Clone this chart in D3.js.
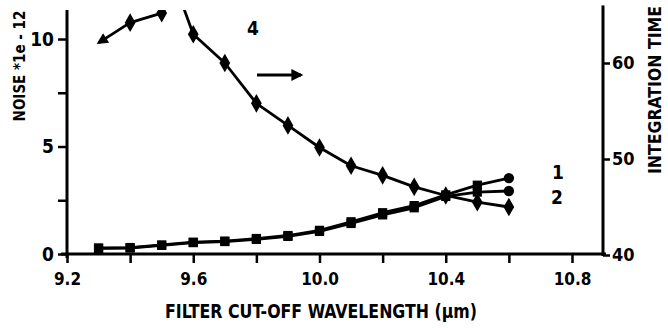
<!DOCTYPE html>
<html lang="en">
<head>
    <meta charset="UTF-8">
    <title>Noise and integration time vs filter cut-off</title>
    <script src="https://d3js.org/d3.v7.min.js"></script>
</head>
<body>
    <div id="chart"></div>

    <script>
        // Data
        const wavelengths = [9.3, 9.4, 9.5, 9.6, 9.7, 9.8, 9.9, 10.0, 10.1, 10.2, 10.3, 10.4, 10.5, 10.6];
        const noise1 = [0.28, 0.3, 0.42, 0.55, 0.6, 0.72, 0.86, 1.1, 1.5, 1.92, 2.25, 2.75, 3.2, 3.53];
        const noise2 = [0.26, 0.28, 0.4, 0.53, 0.58, 0.68, 0.82, 1.05, 1.42, 1.82, 2.15, 2.68, 2.88, 2.93];
        // integration time curve runs off the top between 9.5 and 9.6
        const timeWavelengths = [9.3, 9.4, 9.5, 9.55, 9.6, 9.7, 9.8, 9.9, 10.0, 10.1, 10.2, 10.3, 10.4, 10.5, 10.6];
        const integrationTime = [62.1, 64.2, 65.2, 67.5, 63.0, 60.0, 55.8, 53.5, 51.2, 49.3, 48.3, 47.1, 46.2, 45.5, 45.0];

        const xTicks = [9.2, 9.4, 9.6, 9.8, 10.0, 10.2, 10.4, 10.6, 10.8];
        const xLabels = ['9.2', '9.6', '10.0', '10.4', '10.8'];
        const yLeftTicks = [0, 2.5, 5, 7.5, 10];
        const yLeftLabels = ['0', '5', '10'];
        const yRightTicks = [40, 50, 60];

        const width = 668;
        const height = 328;
        const font = '"DejaVu Sans Condensed", "Liberation Sans Narrow", sans-serif';

        const svg = d3.select('#chart')
            .append('svg')
            .attr('width', width)
            .attr('height', height)
            .style('background', '#fff');

        // Scales
        const x = d3.scaleLinear().domain([9.2, 10.8]).range([67, 572]);
        const yLeft = d3.scaleLinear().domain([0, 11.35]).range([254, 10]);
        const yRight = d3.scaleLinear().domain([40, 66]).range([255, 5.4]);
        const rightX = 603;

        // Clip so the time curve is cut at the top
        svg.append('clipPath').attr('id', 'plot')
            .append('rect')
            .attr('x', x.range()[0]).attr('y', yLeft.range()[1])
            .attr('width', rightX - x.range()[0])
            .attr('height', yLeft.range()[0] - yLeft.range()[1] + 4);

        // Arrowhead marker
        const defs = svg.append('defs');
        defs.append('marker')
            .attr('id', 'arrow')
            .attr('viewBox', '0 0 10 10')
            .attr('refX', 8).attr('refY', 5)
            .attr('markerWidth', 5).attr('markerHeight', 4)
            .attr('markerUnits', 'strokeWidth')
            .attr('orient', 'auto-start-reverse')
            .append('path')
            .attr('d', 'M0,0 L10,5 L0,10 Z')
            .attr('fill', '#000');

        // X axis
        const xAxis = d3.axisBottom(x)
            .tickValues(xTicks)
            .tickSize(9)
            .tickPadding(10)
            .tickFormat(d => {
                const s = d.toFixed(1);
                return xLabels.includes(s) ? s : '';
            });

        const gx = svg.append('g')
            .attr('transform', `translate(0,${yLeft(0)})`)
            .call(xAxis);
        gx.select('.domain').remove();
        gx.selectAll('line').attr('stroke', '#000').attr('stroke-width', 2.5);
        gx.selectAll('text')
            .attr('font-family', font).attr('font-weight', 'bold')
            .attr('font-size', 17).attr('fill', '#000');

        svg.append('line')
            .attr('x1', x.range()[0] - 6).attr('x2', rightX + 3)
            .attr('y1', yLeft(0)).attr('y2', yLeft(0))
            .attr('stroke', '#000').attr('stroke-width', 3);

        // Left axis
        const yAxisL = d3.axisLeft(yLeft)
            .tickValues(yLeftTicks)
            .tickSize(9)
            .tickPadding(4)
            .tickFormat(d => yLeftLabels.includes(String(d)) ? String(d) : '');
        const gl = svg.append('g')
            .attr('transform', `translate(${x.range()[0]},0)`)
            .call(yAxisL);
        gl.select('.domain').remove();
        gl.selectAll('line').attr('stroke', '#000').attr('stroke-width', 2.5);
        gl.selectAll('text')
            .attr('font-family', font).attr('font-weight', 'bold')
            .attr('font-size', 19).attr('fill', '#000');
        svg.append('line')
            .attr('x1', x.range()[0]).attr('x2', x.range()[0])
            .attr('y1', yLeft.range()[1]).attr('y2', yLeft(0) + 4)
            .attr('stroke', '#000').attr('stroke-width', 3);

        // Right axis
        const yAxisR = d3.axisRight(yRight)
            .tickValues(yRightTicks)
            .tickSize(7)
            .tickPadding(2)
            .tickFormat(d3.format('d'));
        const gr = svg.append('g')
            .attr('transform', `translate(${rightX},0)`)
            .call(yAxisR);
        gr.select('.domain').remove();
        gr.selectAll('line').attr('stroke', '#000').attr('stroke-width', 2.5);
        gr.selectAll('text')
            .attr('font-family', font).attr('font-weight', 'bold')
            .attr('font-size', 18).attr('fill', '#000');
        svg.append('line')
            .attr('x1', rightX).attr('x2', rightX)
            .attr('y1', yRight.range()[1]).attr('y2', yRight(40) + 1)
            .attr('stroke', '#000').attr('stroke-width', 3);

        // Axis titles
        svg.append('text')
            .attr('x', 321).attr('y', 318)
            .attr('text-anchor', 'middle')
            .attr('font-family', font).attr('font-weight', 'bold')
            .attr('font-size', 19)
            .attr('textLength', 312).attr('lengthAdjust', 'spacingAndGlyphs')
            .text('FILTER CUT-OFF WAVELENGTH (µm)');

        svg.append('text')
            .attr('transform', 'translate(25,66) rotate(-90)')
            .attr('text-anchor', 'middle')
            .attr('font-family', font).attr('font-weight', 'bold')
            .attr('font-size', 15)
            .text('NOISE *1e - 12');

        svg.append('text')
            .attr('transform', 'translate(661,174) rotate(-90)')
            .attr('text-anchor', 'start')
            .attr('font-family', font).attr('font-weight', 'bold')
            .attr('font-size', 18)
            .attr('textLength', 168).attr('lengthAdjust', 'spacingAndGlyphs')
            .text('INTEGRATION TIME');

        // Lines
        const plot = svg.append('g').attr('clip-path', 'url(#plot)');

        const noiseLine = d3.line()
            .x((d, i) => x(wavelengths[i]))
            .y(d => yLeft(d));

        [noise2, noise1].forEach(series => {
            plot.append('path')
                .datum(series)
                .attr('d', noiseLine)
                .attr('fill', 'none')
                .attr('stroke', '#000')
                .attr('stroke-width', 2.8)
                .attr('stroke-linejoin', 'round');
        });

        const timeLine = d3.line()
            .x((d, i) => x(timeWavelengths[i]))
            .y(d => yRight(d));

        plot.append('path')
            .datum(integrationTime)
            .attr('d', timeLine)
            .attr('fill', 'none')
            .attr('stroke', '#000')
            .attr('stroke-width', 2.8)
            .attr('stroke-linejoin', 'round')
            .attr('marker-start', 'url(#arrow)');

        // Markers
        const endSymbol = (series) => (d, i) =>
            d3.symbol().type(i === series.length - 1 ? d3.symbolCircle : d3.symbolSquare).size(85)();

        plot.selectAll('.m2')
            .data(noise2)
            .enter()
            .append('path')
            .attr('class', 'm2')
            .attr('transform', (d, i) => `translate(${x(wavelengths[i])},${yLeft(d)})`)
            .attr('d', endSymbol(noise2));

        plot.selectAll('.m1')
            .data(noise1)
            .enter()
            .append('path')
            .attr('class', 'm1')
            .attr('transform', (d, i) => `translate(${x(wavelengths[i])},${yLeft(d)})`)
            .attr('d', endSymbol(noise1));

        plot.selectAll('.mt')
            .data(integrationTime.slice(1))
            .enter()
            .append('path')
            .attr('class', 'mt')
            .attr('transform', (d, i) => `translate(${x(timeWavelengths[i + 1])},${yRight(d)})`)
            .attr('d', d3.symbol().type(d3.symbolDiamond).size(100)());

        // Curve labels and arrow
        const labels = [
            { text: '1', x: 558, y: 179 },
            { text: '2', x: 557, y: 204 },
            { text: '4', x: 253, y: 35 }
        ];
        svg.selectAll('.lbl')
            .data(labels)
            .enter()
            .append('text')
            .attr('class', 'lbl')
            .attr('x', d => d.x).attr('y', d => d.y)
            .attr('text-anchor', 'middle')
            .attr('font-family', font).attr('font-weight', 'bold')
            .attr('font-size', 19)
            .text(d => d.text);

        svg.append('line')
            .attr('x1', 257).attr('x2', 301)
            .attr('y1', 75).attr('y2', 75)
            .attr('stroke', '#000').attr('stroke-width', 3)
            .attr('marker-end', 'url(#arrow)');
    </script>
</body>
<style>
    body {
        margin: 0;
        background: #fff;
    }
</style>
</html>
